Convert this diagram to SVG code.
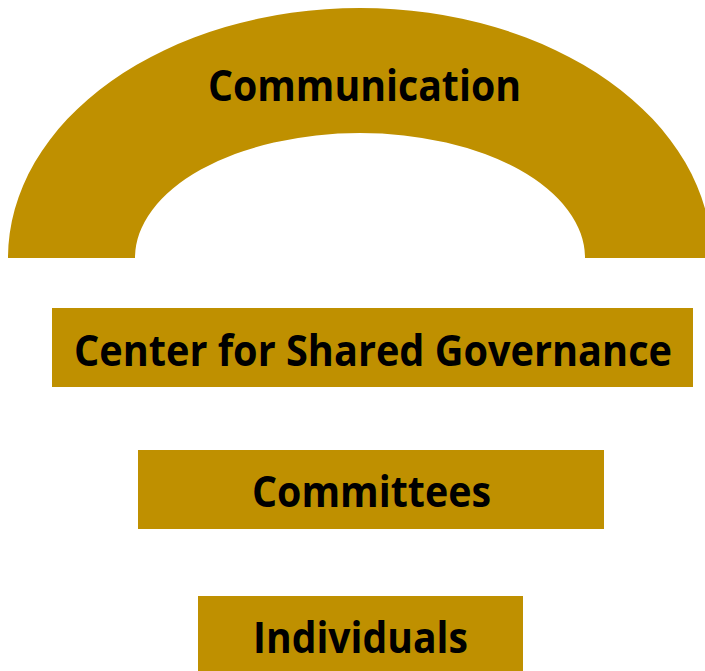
<svg xmlns="http://www.w3.org/2000/svg" width="705" height="671" viewBox="0 0 705 671">
<style>
.shape{fill:#BF9000}
.lbl{font-family:"Open Sans","Liberation Sans",sans-serif;font-weight:bold;font-size:43px;fill:#000;text-anchor:start}
</style>
<rect width="705" height="671" fill="#fff"/>
<g id="communication">
<path class="shape" d="M 8 258 A 352 250 0 0 1 712 258 L 585 258 A 225 125 0 0 0 135 258 Z"/>
<text class="lbl" x="208" y="101" textLength="313" lengthAdjust="spacingAndGlyphs">Communication</text>
</g>
<g id="center">
<rect class="shape" x="52" y="308" width="641" height="79"/>
<text class="lbl" x="74" y="366" textLength="598" lengthAdjust="spacingAndGlyphs">Center for Shared Governance</text>
</g>
<g id="committees">
<rect class="shape" x="138" y="450" width="466" height="79"/>
<text class="lbl" x="252" y="507" textLength="239" lengthAdjust="spacingAndGlyphs">Committees</text>
</g>
<g id="individuals">
<rect class="shape" x="198" y="596" width="325" height="80"/>
<text class="lbl" x="253" y="653" textLength="215" lengthAdjust="spacingAndGlyphs">Individuals</text>
</g>
<g id="connectors"/>
</svg>
